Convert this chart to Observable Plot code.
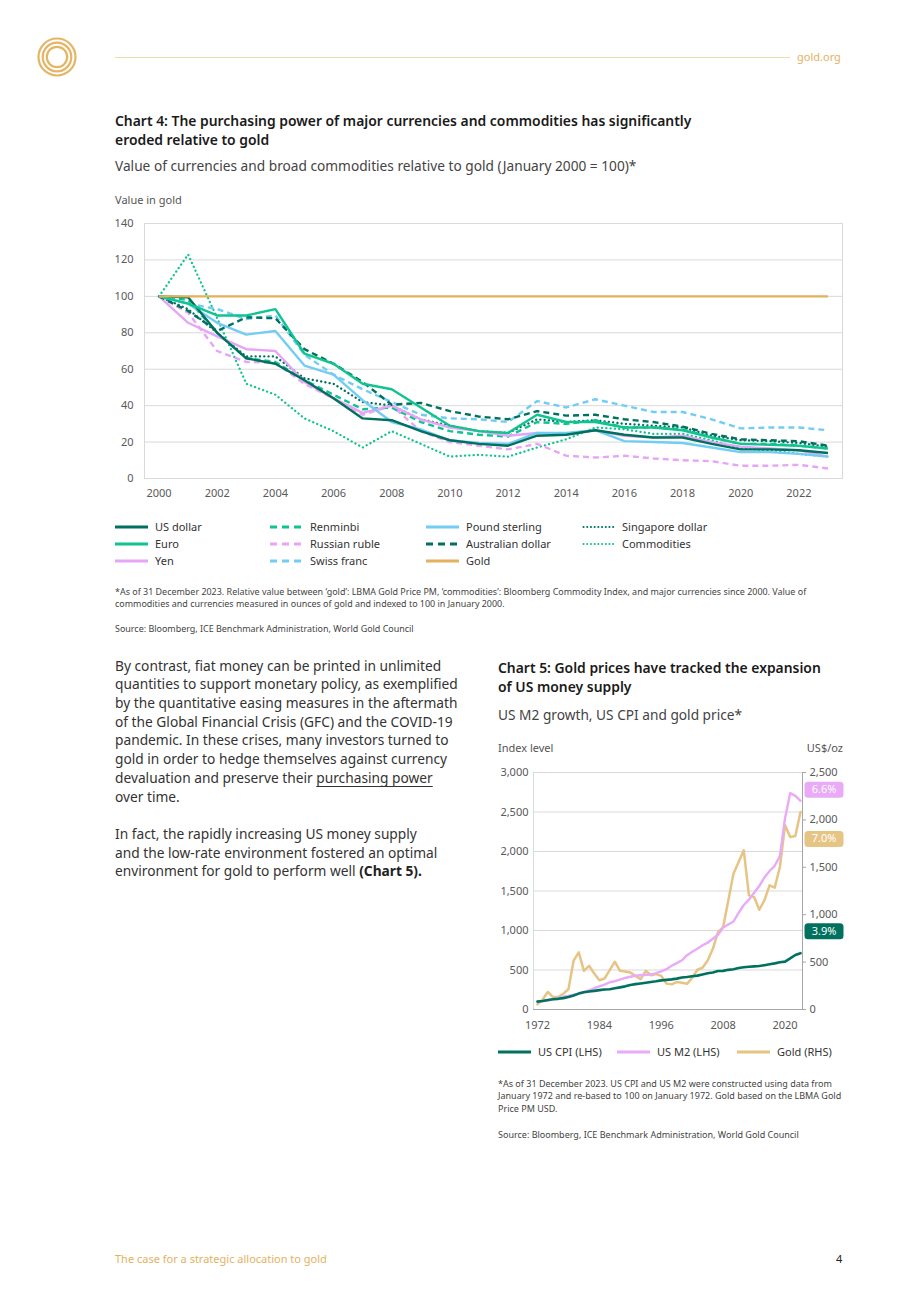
<!DOCTYPE html>
<html><head><meta charset="utf-8">
<script src="https://cdn.jsdelivr.net/npm/d3@7"></script>
<script src="https://cdn.jsdelivr.net/npm/@observablehq/plot@0.6"></script>
<style>
body{margin:0;background:#fff;}
#page{position:relative;width:920px;height:1302px;font-family:"Noto Sans",sans-serif;color:#222;overflow:hidden;background:#fff;}
.a{position:absolute;white-space:nowrap;}
.title{font-size:13.9px;font-weight:600;line-height:19px;color:#1a1a1a;}
.sub{font-size:13.7px;line-height:18px;color:#444;}
.unit{font-size:11px;line-height:14px;color:#555;}
.leg{font-size:11px;line-height:14px;color:#333;display:flex;align-items:center;}
.leg svg{margin-right:7px;}
.note{font-size:8.95px;line-height:12.2px;color:#444;}
.note5{font-size:9px;line-height:12.5px;color:#444;}
.body{font-size:13.74px;line-height:18.7px;color:#333;}
</style></head><body><div id="page">
<svg class="a" style="left:36px;top:36px" width="42" height="42">
<g fill="none" stroke="#e5b565" stroke-width="2.2"><circle cx="21" cy="21" r="18.5"/><circle cx="21" cy="21" r="14.3"/><circle cx="21" cy="21" r="10.2"/></g></svg>
<div class="a" style="left:115px;top:56.5px;width:675px;height:1px;background:#f1dcae"></div>
<div class="a" style="left:797px;top:50px;font-size:11px;line-height:14px;color:#e3b25f">gold.org</div>

<div class="a title" style="left:115px;top:110.5px">Chart 4: The purchasing power of major currencies and commodities has significantly<br>eroded relative to gold</div>
<div class="a sub" style="left:115px;top:157px">Value of currencies and broad commodities relative to gold (January 2000 = 100)*</div>
<div class="a unit" style="left:115px;top:193px">Value in gold</div>
<div id="chart4" class="a" style="left:110px;top:210px"></div>
<div class="a note" style="left:115px;top:586px">*As of 31 December 2023. Relative value between ‘gold’: LBMA Gold Price PM, ‘commodities’: Bloomberg Commodity Index, and major currencies since 2000. Value of<br>commodities and currencies measured in ounces of gold and indexed to 100 in January 2000.</div>
<div class="a note" style="left:115px;top:623px">Source: Bloomberg, ICE Benchmark Administration, World Gold Council</div>

<div class="a body" style="left:115px;top:656.6px">By contrast, fiat money can be printed in unlimited<br>quantities to support monetary policy, as exemplified<br>by the quantitative easing measures in the aftermath<br>of the Global Financial Crisis (GFC) and the COVID-19<br>pandemic. In these crises, many investors turned to<br>gold in order to hedge themselves against currency<br>devaluation and preserve their <span style="text-decoration:underline;text-decoration-thickness:1px;text-underline-offset:3px">purchasing power</span><br>over time.<br><br>In fact, the rapidly increasing US money supply<br>and the low-rate environment fostered an optimal<br>environment for gold to perform well <b style="font-weight:700;color:#222">(Chart 5).</b></div>

<div class="a title" style="left:498px;top:657.5px">Chart 5: Gold prices have tracked the expansion<br>of US money supply</div>
<div class="a sub" style="left:498px;top:706px">US M2 growth, US CPI and gold price*</div>
<div class="a unit" style="left:498px;top:741px">Index level</div>
<div class="a unit" style="left:780px;top:741px;width:63px;text-align:right">US$/oz</div>
<div id="chart5" class="a" style="left:490px;top:760px"></div>
<div class="a note5" style="left:498px;top:1077.5px">*As of 31 December 2023. US CPI and US M2 were constructed using data from<br>January 1972 and re-based to 100 on January 1972. Gold based on the LBMA Gold<br>Price PM USD.</div>
<div class="a note5" style="left:498px;top:1129px">Source: Bloomberg, ICE Benchmark Administration, World Gold Council</div>

<div class="a" style="left:115px;top:1252px;font-size:11px;line-height:14px;color:#e3b25f">The case for a strategic allocation to gold</div>
<div class="a" style="left:836px;top:1252px;font-size:11px;line-height:14px;color:#222">4</div>
</div>
<script>
// ---------- Chart 4 data ----------
const years4 = [2000,2001,2002,2003,2004,2005,2006,2007,2008,2009,2010,2011,2012,2013,2014,2015,2016,2017,2018,2019,2020,2021,2022,2023];
const xTicks4 = [2000,2002,2004,2006,2008,2010,2012,2014,2016,2018,2020,2022];
const yTicks4 = [0,20,40,60,80,100,120,140];
const usDollar    = [100,99.5,80,66,63,54,44,33,32,26,21,19,18,23.5,24,26.5,24,22.5,22.5,19,16,16,15.5,14];
const euro        = [100,96,89.5,89.5,93,68.5,63,52,49,39,29,26,25,35,31,31,28,28,26.5,22.5,19,18.5,18,16.5];
const yen         = [100,85.5,78,71,70,53,44,36,40,32.5,28,26,23.5,25,24.5,26.5,23.5,22.5,23.5,20,17.5,16.5,15.5,12];
const renminbi    = [100,98,80,66,64,54,46,38,39,31,26,24,23,31,30,32,28,28,27,22.5,19,19,18,16.5];
const russianRuble= [100,91,70,64,63.5,52,44,35,40,26,20,18,16,19,12.5,11.5,12.5,11,10,9.5,7,7,7.5,5.5];
const swissFranc  = [100,96,93,87.5,89.5,68,57,49,42,35,33,32.5,31,42.5,39,43.5,40,36.5,36.5,32.5,27.5,28,28,26.5];
const poundSterling=[100,96,85.5,79,81,62,57,43,31,27,21,19.5,19,25,25,26.5,20.5,20,19.5,17,14.5,14.5,13.5,12];
const ausDollar   = [100,92,81,88.5,88,71,63,53,40.5,41.5,37,34,32.5,37,34.5,35,32.5,31,28.5,24.5,21.5,21,20.5,18];
const singDollar  = [100,93,80,67,67,55,52,42,40,32.5,29,26,25,32.5,31,32,30,29,28,23.5,21,20.5,19.5,17.5];
const commodities = [100,123,88,52,46,33,26,17,26,19,12,13,12,17,21.5,28,27,24.5,24.5,21,16.5,15.5,13.5,12];
const goldRel     = [100,100,100,100,100,100,100,100,100,100,100,100,100,100,100,100,100,100,100,100,100,100,100,100];

const names4 = ["US dollar","Euro","Yen","Renminbi","Russian ruble","Swiss franc","Pound sterling","Australian dollar","Singapore dollar","Commodities","Gold"];
const values4 = [usDollar,euro,yen,renminbi,russianRuble,swissFranc,poundSterling,ausDollar,singDollar,commodities,goldRel];

// styles (kept separate from data)
const DT="#00715e", GR="#10c48f", PK="#e6a5f6", LB="#72cdf4", GD="#e2b25c";
const style4 = {
  "US dollar":{stroke:DT,dash:null},
  "Euro":{stroke:GR,dash:null},
  "Yen":{stroke:PK,dash:null},
  "Renminbi":{stroke:GR,dash:"6,4"},
  "Russian ruble":{stroke:PK,dash:"6,4"},
  "Swiss franc":{stroke:LB,dash:"6,4"},
  "Pound sterling":{stroke:LB,dash:null},
  "Australian dollar":{stroke:DT,dash:"6,4"},
  "Singapore dollar":{stroke:DT,dash:"0.1,4.2",dot:true},
  "Commodities":{stroke:GR,dash:"0.1,4.2",dot:true},
  "Gold":{stroke:GD,dash:null}
};
const drawOrder4 = ["Commodities","Singapore dollar","Russian ruble","Renminbi","Yen","Pound sterling","Swiss franc","Australian dollar","US dollar","Euro","Gold"];

const table4 = names4.flatMap((n,i)=>years4.map((y,j)=>({series:n,year:y,value:values4[i][j]})));

const FONT='"Noto Sans", sans-serif';
const chart4 = Plot.plot({
  width:740, height:300,
  marginLeft:34, marginRight:8, marginTop:13, marginBottom:32,
  style:{fontFamily:FONT,fontSize:"11px",color:"#595959",background:"transparent"},
  x:{domain:[1999.5,2023.5]},
  y:{domain:[0,140]},
  marks:[
    Plot.gridY(yTicks4,{stroke:"#d9d9d9",strokeOpacity:1}),
    Plot.frame({stroke:"#d9d9d9"}),
    Plot.axisX(xTicks4,{label:null,tickSize:0,tickPadding:11,tickFormat:d=>String(d),fill:"#595959"}),
    Plot.axisY(yTicks4,{label:null,tickSize:0,tickPadding:11,fill:"#595959"}),
    ...drawOrder4.map(n=>Plot.line(table4.filter(d=>d.series===n),{
      x:"year",y:"value",stroke:style4[n].stroke,
      strokeWidth: style4[n].dot?2.3:2.4,
      strokeDasharray: style4[n].dash||undefined,
      strokeLinecap: style4[n].dot?"round":"butt",
      strokeLinejoin:"round"
    }))
  ]
});
document.getElementById("chart4").append(chart4);

// legend 4
const legendRows4 = [
  ["US dollar","Renminbi","Pound sterling","Singapore dollar"],
  ["Euro","Russian ruble","Australian dollar","Commodities"],
  ["Yen","Swiss franc","Gold"]
];
const page = document.getElementById("page");
function swatch(st, w){
  const ns="http://www.w3.org/2000/svg";
  const s=document.createElementNS(ns,"svg"); s.setAttribute("width",w); s.setAttribute("height",6);
  const l=document.createElementNS(ns,"line");
  l.setAttribute("x1",st.dot?1.5:0); l.setAttribute("x2",w); l.setAttribute("y1",3); l.setAttribute("y2",3);
  l.setAttribute("stroke",st.stroke); l.setAttribute("stroke-width",st.dot?2:3);
  if(st.dash) l.setAttribute("stroke-dasharray", st.dot?"0.1,3.6":"7,5");
  if(st.dot) l.setAttribute("stroke-linecap","round");
  s.append(l); return s;
}
const colX4=[115,270,426,582], rowY4=[527,544,561];
legendRows4.forEach((row,r)=>row.forEach((n,c)=>{
  const d=document.createElement("div"); d.className="a leg";
  d.style.left=colX4[c]+"px"; d.style.top=(rowY4[r]-7)+"px";
  d.append(swatch(style4[n],33)); d.append(document.createTextNode(n));
  page.append(d);
}));

// ---------- Chart 5 data ----------
const years5 = [1972,1973,1974,1975,1976,1977,1978,1979,1980,1981,1982,1983,1984,1985,1986,1987,1988,1989,1990,1991,1992,1993,1994,1995,1996,1997,1998,1999,2000,2001,2002,2003,2004,2005,2006,2007,2008,2009,2010,2011,2012,2013,2014,2015,2016,2017,2018,2019,2020,2021,2022,2023];
const usCpi = [100,107,121,129,135,144,157,178,201,219,227,236,245,254,257,268,280,293,311,321,330,339,348,357,369,375,381,391,405,411,421,429,443,458,469,488,489,502,510,525,534,542,546,550,561,573,584,598,606,648,690,713];
const usM2  = [100,108,114,129,146,161,173,187,203,222,241,269,292,315,345,358,378,399,414,427,433,440,441,459,483,511,554,587,623,688,731,768,812,846,895,946,1037,1076,1114,1223,1323,1390,1477,1562,1672,1753,1819,1941,2422,2739,2704,2642];
const goldUsd = [55,106,185,131,131,167,213,515,603,408,461,380,309,327,415,504,408,401,390,355,320,408,362,373,355,273,266,289,282,271,334,419,440,517,640,817,870,1150,1433,1556,1679,1204,1186,1052,1151,1309,1285,1503,1943,1820,1830,2084];
const xTicks5 = [1972,1984,1996,2008,2020];
const lhsTicks = [0,500,1000,1500,2000,2500,3000];
const rhsTicks = [0,500,1000,1500,2000,2500];
const growthLabels = [
  {series:"US M2 (LHS)", label:"6.6%"},
  {series:"Gold (RHS)", label:"7.0%"},
  {series:"US CPI (LHS)", label:"3.9%"}
];
const ratio = lhsTicks[lhsTicks.length-1]/rhsTicks[rhsTicks.length-1];

const DT5="#00715e", PK5="#e9aaf7", GD5="#e6c484";
const style5 = {
  "US CPI (LHS)":{stroke:DT5, dy:-22},
  "US M2 (LHS)":{stroke:PK5, dy:-11},
  "Gold (RHS)":{stroke:GD5, dy:27}
};
const rows5 = years5.map((y,i)=>({year:y,cpi:usCpi[i],m2:usM2[i],gold:goldUsd[i]*ratio}));
const lastRow = rows5[rows5.length-1];
const lastVal = {"US CPI (LHS)":lastRow.cpi,"US M2 (LHS)":lastRow.m2,"Gold (RHS)":lastRow.gold};

const pillSymbol = {draw(ctx){
  const w=19.5,h=8,r=3.5;
  ctx.moveTo(-w+r,-h); ctx.lineTo(w-r,-h); ctx.arcTo(w,-h,w,-h+r,r);
  ctx.lineTo(w,h-r); ctx.arcTo(w,h,w-r,h,r); ctx.lineTo(-w+r,h);
  ctx.arcTo(-w,h,-w,h-r,r); ctx.lineTo(-w,-h+r); ctx.arcTo(-w,-h,-w+r,-h,r); ctx.closePath();
}};

const fmt = d3.format(",");
const chart5 = Plot.plot({
  width:360, height:279,
  marginLeft:43, marginRight:48, marginTop:12, marginBottom:30,
  style:{fontFamily:FONT,fontSize:"11px",color:"#595959",background:"transparent",overflow:"visible"},
  x:{domain:[years5[0],years5[years5.length-1]], insetLeft:4, insetRight:2},
  y:{domain:[0,lhsTicks[lhsTicks.length-1]]},
  marks:[
    Plot.gridY(lhsTicks.slice(1),{stroke:"#d9d9d9",strokeOpacity:1}),
    Plot.frame({anchor:"left",stroke:"#dcdcdc"}),
    Plot.frame({anchor:"right",stroke:"#a6a6a6"}),
    Plot.frame({anchor:"bottom",stroke:"#a6a6a6"}),
    Plot.axisX(xTicks5,{label:null,tickSize:0,tickPadding:12,tickFormat:d=>String(d),fill:"#595959"}),
    Plot.axisY(lhsTicks,{label:null,anchor:"left",tickSize:0,tickPadding:5,tickFormat:fmt,fill:"#595959"}),
    Plot.axisY(rhsTicks.map(v=>v*ratio),{label:null,anchor:"right",tickSize:3,tickPadding:4,stroke:"#a6a6a6",tickFormat:d=>fmt(Math.round(d/ratio)),fill:"#595959"}),
    Plot.line(rows5,{x:"year",y:"gold",stroke:GD5,strokeWidth:2.5,strokeLinejoin:"round"}),
    Plot.line(rows5,{x:"year",y:"m2",stroke:PK5,strokeWidth:2.4,strokeLinejoin:"round"}),
    Plot.line(rows5,{x:"year",y:"cpi",stroke:DT5,strokeWidth:2.6,strokeLinejoin:"round"}),
    ...growthLabels.flatMap(g=>[
      Plot.dot([g],{x:()=>lastRow.year,y:()=>lastVal[g.series],symbol:pillSymbol,r:8,fill:style5[g.series].stroke,stroke:"none",dx:23.5,dy:style5[g.series].dy}),
      Plot.text([g],{x:()=>lastRow.year,y:()=>lastVal[g.series],text:"label",fill:"white",fontSize:11,dx:23.5,dy:style5[g.series].dy})
    ])
  ]
});
document.getElementById("chart5").append(chart5);

// legend 5
const legendX5 = [498,617,737];
Object.keys(style5).forEach((n,i)=>{
  const d=document.createElement("div"); d.className="a leg";
  d.style.left=legendX5[i]+"px"; d.style.top=(1052-7)+"px";
  d.append(swatch({stroke:style5[n].stroke},33)); d.append(document.createTextNode(n));
  page.append(d);
});
</script>
</body></html>
